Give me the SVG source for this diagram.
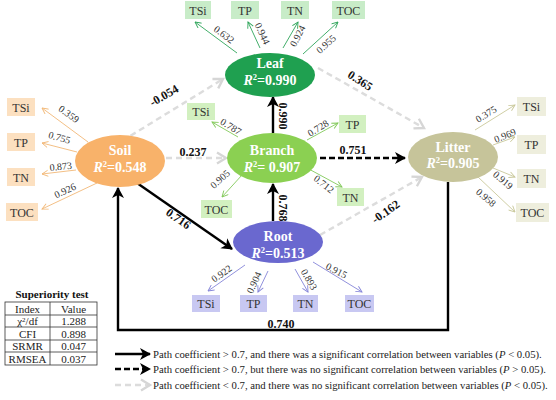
<svg xmlns="http://www.w3.org/2000/svg" width="556" height="400" viewBox="0 0 556 400" font-family="'Liberation Serif','DejaVu Serif',serif">
<style>
text{font-family:"Liberation Serif","DejaVu Serif",serif;}
.nt{font-size:14px;font-weight:bold;fill:#fff;text-anchor:middle;}
.bx{font-size:12px;fill:#333;text-anchor:middle;}
.il{font-size:10px;fill:#333;text-anchor:middle;}
.pc{font-size:12px;font-weight:bold;fill:#111;text-anchor:middle;}
.tb{font-size:11px;fill:#222;text-anchor:middle;}
.lg{font-size:10.7px;fill:#222;}
.blk{stroke:#000;stroke-width:2.4;fill:none;}
.bdash{stroke:#000;stroke-width:2.4;fill:none;stroke-dasharray:6 3;}
.gdash{stroke:#dcdcdc;stroke-width:2.4;fill:none;stroke-dasharray:6 4;}
.ia{stroke-width:0.9;fill:none;}
</style>
<defs>
<marker id="mb" markerUnits="userSpaceOnUse" markerWidth="14" markerHeight="14" refX="11" refY="7" orient="auto">
<path d="M1,1 L12,7 L1,13 L4,7 z" fill="#000"/>
</marker>
<marker id="mg" markerUnits="userSpaceOnUse" markerWidth="14" markerHeight="14" refX="11" refY="7" orient="auto">
<path d="M2,1.5 L11,7 L2,12.5" fill="none" stroke="#d6d6d6" stroke-width="2.4"/>
</marker>
<marker id="m1" markerUnits="userSpaceOnUse" markerWidth="8" markerHeight="8" refX="7" refY="4" orient="auto"><path d="M1,1 L7,4 L1,7" fill="none" stroke="#2fa55a" stroke-width="0.9"/></marker>
<marker id="m2" markerUnits="userSpaceOnUse" markerWidth="8" markerHeight="8" refX="7" refY="4" orient="auto"><path d="M1,1 L7,4 L1,7" fill="none" stroke="#f2b877" stroke-width="0.9"/></marker>
<marker id="m3" markerUnits="userSpaceOnUse" markerWidth="8" markerHeight="8" refX="7" refY="4" orient="auto"><path d="M1,1 L7,4 L1,7" fill="none" stroke="#c9c89a" stroke-width="0.9"/></marker>
<marker id="m4" markerUnits="userSpaceOnUse" markerWidth="8" markerHeight="8" refX="7" refY="4" orient="auto"><path d="M1,1 L7,4 L1,7" fill="none" stroke="#82c95a" stroke-width="0.9"/></marker>
<marker id="m5" markerUnits="userSpaceOnUse" markerWidth="8" markerHeight="8" refX="7" refY="4" orient="auto"><path d="M1,1 L7,4 L1,7" fill="none" stroke="#8585d8" stroke-width="0.9"/></marker>
</defs>
<rect width="556" height="400" fill="#fff"/>

<g id="connectors">
<line class="gdash" x1="122" y1="141" x2="223" y2="79" marker-end="url(#mg)"/>
<line class="gdash" x1="166" y1="158" x2="226" y2="158" marker-end="url(#mg)"/>
<line class="blk" x1="137" y1="183" x2="232" y2="249" marker-end="url(#mb)"/>
<line class="blk" x1="273" y1="221" x2="273" y2="184" marker-end="url(#mb)"/>
<line class="blk" x1="273" y1="133" x2="273" y2="97" marker-end="url(#mb)"/>
<line class="gdash" x1="318" y1="68" x2="424" y2="128" marker-end="url(#mg)"/>
<line class="bdash" x1="320" y1="158" x2="405" y2="158" marker-end="url(#mb)"/>
<line class="gdash" x1="320" y1="235" x2="422" y2="177" marker-end="url(#mg)"/>
<path class="blk" d="M448,182 L448,330 L118,330 L118,188" marker-end="url(#mb)"/>
<text class="pc" transform="translate(166,99) rotate(-30)">-0.054</text>
<text class="pc" x="193" y="156">0.237</text>
<text class="pc" transform="translate(176,222) rotate(35)">0.716</text>
<text class="pc" transform="translate(279,116) rotate(90)">0.990</text>
<text class="pc" transform="translate(279,208) rotate(90)">0.768</text>
<text class="pc" transform="translate(358,84) rotate(33)">0.365</text>
<text class="pc" x="353" y="154">0.751</text>
<text class="pc" transform="translate(388,215) rotate(-35)">-0.162</text>
<text class="pc" x="281" y="328">0.740</text>
</g>

<g id="leaf">
<g fill="#c8ecc8">
<rect x="185" y="1" width="26" height="18"/><rect x="231" y="1" width="28" height="18"/><rect x="281" y="1" width="28" height="18"/><rect x="332" y="1" width="33" height="18"/>
</g>
<text class="bx" x="198" y="14.5">TSi</text><text class="bx" x="245" y="14.5">TP</text><text class="bx" x="295" y="14.5">TN</text><text class="bx" x="348.5" y="14.5">TOC</text>
<g stroke="#2fa55a" class="ia">
<line x1="237" y1="53" x2="195" y2="22" marker-end="url(#m1)"/>
<line x1="260" y1="48" x2="248" y2="22" marker-end="url(#m1)"/>
<line x1="283" y1="48" x2="298" y2="22" marker-end="url(#m1)"/>
<line x1="303" y1="54" x2="338" y2="22" marker-end="url(#m1)"/>
</g>
<text class="il" transform="translate(221.9,37.3) rotate(37)">0.632</text>
<text class="il" transform="translate(259.3,35) rotate(65)">0.944</text>
<text class="il" transform="translate(300.6,37.6) rotate(-63)">0.924</text>
<text class="il" transform="translate(328.3,46.6) rotate(-42)">0.955</text>
<ellipse cx="270" cy="75" rx="45" ry="22" fill="#1fa050"/>
<text class="nt" x="270" y="68">Leaf</text>
<text class="nt" x="270" y="85"><tspan font-style="italic">R</tspan><tspan dy="-5" font-size="8.5">2</tspan><tspan dy="5">=0.990</tspan></text>
</g>

<g id="soil">
<g fill="#fce0c0">
<rect x="7" y="98" width="28" height="18"/><rect x="7" y="133" width="28" height="18"/><rect x="7" y="168" width="28" height="18"/><rect x="6" y="203" width="32" height="18"/>
</g>
<text class="bx" x="21" y="111.5">TSi</text><text class="bx" x="21" y="146.5">TP</text><text class="bx" x="21" y="181.5">TN</text><text class="bx" x="22" y="216.5">TOC</text>
<g stroke="#f2b877" class="ia">
<line x1="88" y1="142" x2="42" y2="108" marker-end="url(#m2)"/>
<line x1="77" y1="152" x2="42" y2="143" marker-end="url(#m2)"/>
<line x1="76" y1="170" x2="42" y2="174" marker-end="url(#m2)"/>
<line x1="97" y1="183" x2="42" y2="209" marker-end="url(#m2)"/>
</g>
<text class="il" transform="translate(66.9,116.8) rotate(36)">0.359</text>
<text class="il" transform="translate(58.5,140.9) rotate(16)">0.755</text>
<text class="il" transform="translate(61.1,169.8) rotate(-6)">0.873</text>
<text class="il" transform="translate(66.5,193.7) rotate(-25)">0.926</text>
<ellipse cx="120" cy="161" rx="45" ry="26" fill="#f8b26a"/>
<text class="nt" x="120" y="155">Soil</text>
<text class="nt" x="120" y="172"><tspan font-style="italic">R</tspan><tspan dy="-5" font-size="8.5">2</tspan><tspan dy="5">=0.548</tspan></text>
</g>

<g id="branch">
<g fill="#d2f0c0">
<rect x="187" y="103" width="28" height="17"/><rect x="339" y="115" width="27" height="18"/><rect x="337" y="188" width="27" height="18"/><rect x="201" y="200" width="31" height="18"/>
</g>
<text class="bx" x="201" y="116">TSi</text><text class="bx" x="352.5" y="128.5">TP</text><text class="bx" x="350.5" y="201.5">TN</text><text class="bx" x="216.5" y="213.5">TOC</text>
<g stroke="#82c95a" class="ia">
<line x1="238" y1="137" x2="212" y2="122" marker-end="url(#m4)"/>
<line x1="307" y1="140" x2="338" y2="123" marker-end="url(#m4)"/>
<line x1="242" y1="175" x2="222" y2="197" marker-end="url(#m4)"/>
<line x1="307" y1="168" x2="342" y2="187" marker-end="url(#m4)"/>
</g>
<text class="il" transform="translate(229.1,129.5) rotate(32)">0.787</text>
<text class="il" transform="translate(319.9,131) rotate(-32)">0.728</text>
<text class="il" transform="translate(222.3,181.6) rotate(-42)">0.905</text>
<text class="il" transform="translate(321.8,186.8) rotate(38)">0.712</text>
<ellipse cx="272" cy="158" rx="45" ry="25" fill="#8bd052"/>
<text class="nt" x="272" y="155">Branch</text>
<text class="nt" x="272" y="172"><tspan font-style="italic">R</tspan><tspan dy="-5" font-size="8.5">2</tspan><tspan dy="5">= 0.907</tspan></text>
</g>

<g id="litter">
<g fill="#eeeedd">
<rect x="517" y="97" width="29" height="19"/><rect x="517" y="135" width="29" height="19"/><rect x="517" y="169" width="29" height="19"/><rect x="516" y="203" width="33" height="19"/>
</g>
<text class="bx" x="531.5" y="111">TSi</text><text class="bx" x="531.5" y="149">TP</text><text class="bx" x="531.5" y="183">TN</text><text class="bx" x="532.5" y="217">TOC</text>
<g stroke="#c9c89a" class="ia">
<line x1="475" y1="130" x2="515" y2="105" marker-end="url(#m3)"/>
<line x1="493" y1="145" x2="515" y2="137" marker-end="url(#m3)"/>
<line x1="493" y1="168" x2="515" y2="177" marker-end="url(#m3)"/>
<line x1="478" y1="177" x2="515" y2="212" marker-end="url(#m3)"/>
</g>
<text class="il" transform="translate(487.9,117) rotate(-32)">0.375</text>
<text class="il" transform="translate(506.3,138.7) rotate(-22)">0.969</text>
<text class="il" transform="translate(500.8,182.7) rotate(40)">0.919</text>
<text class="il" transform="translate(483.8,200.2) rotate(40)">0.958</text>
<ellipse cx="453" cy="157" rx="45" ry="25" fill="#c6c49a"/>
<text class="nt" x="453" y="152">Litter</text>
<text class="nt" x="453" y="168"><tspan font-style="italic">R</tspan><tspan dy="-5" font-size="8.5">2</tspan><tspan dy="5">=0.905</tspan></text>
</g>

<g id="root">
<g fill="#c8c8f2">
<rect x="192" y="295" width="28" height="17"/><rect x="240" y="295" width="27" height="17"/><rect x="293" y="295" width="25" height="17"/><rect x="345" y="295" width="29" height="17"/>
</g>
<text class="bx" x="206" y="308">TSi</text><text class="bx" x="253.5" y="308">TP</text><text class="bx" x="305.5" y="308">TN</text><text class="bx" x="359.5" y="308">TOC</text>
<g stroke="#8585d8" class="ia">
<line x1="245" y1="265" x2="208" y2="291" marker-end="url(#m5)"/>
<line x1="268" y1="271" x2="258" y2="292" marker-end="url(#m5)"/>
<line x1="295" y1="269" x2="308" y2="292" marker-end="url(#m5)"/>
<line x1="313" y1="262" x2="362" y2="292" marker-end="url(#m5)"/>
</g>
<text class="il" transform="translate(223.5,276.4) rotate(-35)">0.922</text>
<text class="il" transform="translate(257.2,284) rotate(-65)">0.904</text>
<text class="il" transform="translate(306,281.2) rotate(60)">0.893</text>
<text class="il" transform="translate(334.9,273.6) rotate(27)">0.915</text>
<ellipse cx="278" cy="242" rx="45" ry="21" fill="#6a68cf"/>
<text class="nt" x="278" y="241">Root</text>
<text class="nt" x="278" y="258"><tspan font-style="italic">R</tspan><tspan dy="-5" font-size="8.5">2</tspan><tspan dy="5">=0.513</tspan></text>
</g>

<g id="table">
<text x="52" y="298" style="font-size:11px;font-weight:bold;text-anchor:middle;fill:#111">Superiority test</text>
<g stroke="#333" stroke-width="0.8" fill="none">
<rect x="5" y="302" width="92" height="63"/>
<line x1="50" y1="302" x2="50" y2="365"/>
<line x1="5" y1="315" x2="97" y2="315"/>
<line x1="5" y1="327" x2="97" y2="327"/>
<line x1="5" y1="340" x2="97" y2="340"/>
<line x1="5" y1="352" x2="97" y2="352"/>
</g>
<text class="tb" x="27.5" y="312.5">Index</text><text class="tb" x="73.5" y="312.5">Value</text>
<text class="tb" x="27.5" y="325">χ<tspan dy="-3.5" font-size="7">2</tspan><tspan dy="3.5">/df</tspan></text><text class="tb" x="73.5" y="325">1.288</text>
<text class="tb" x="27.5" y="337.5">CFI</text><text class="tb" x="73.5" y="337.5">0.898</text>
<text class="tb" x="27.5" y="350">SRMR</text><text class="tb" x="73.5" y="350">0.047</text>
<text class="tb" x="27.5" y="362.5">RMSEA</text><text class="tb" x="73.5" y="362.5">0.037</text>
</g>

<g id="legend">
<line class="blk" x1="115" y1="354" x2="150" y2="354" marker-end="url(#mb)"/>
<line class="bdash" x1="115" y1="369" x2="150" y2="369" marker-end="url(#mb)"/>
<line class="gdash" x1="115" y1="385" x2="150" y2="385" marker-end="url(#mg)"/>
<text class="lg" x="153" y="357.5">Path coefficient &gt; 0.7, and there was a significant correlation between variables (<tspan font-style="italic">P</tspan> &lt; 0.05).</text>
<text class="lg" x="153" y="372.5">Path coefficient &gt; 0.7, but there was no significant correlation between variables (<tspan font-style="italic">P</tspan> &gt; 0.05).</text>
<text class="lg" x="153" y="388.5">Path coefficient &lt; 0.7, and there was no significant correlation between variables (<tspan font-style="italic">P</tspan> &lt; 0.05).</text>
</g>
</svg>
